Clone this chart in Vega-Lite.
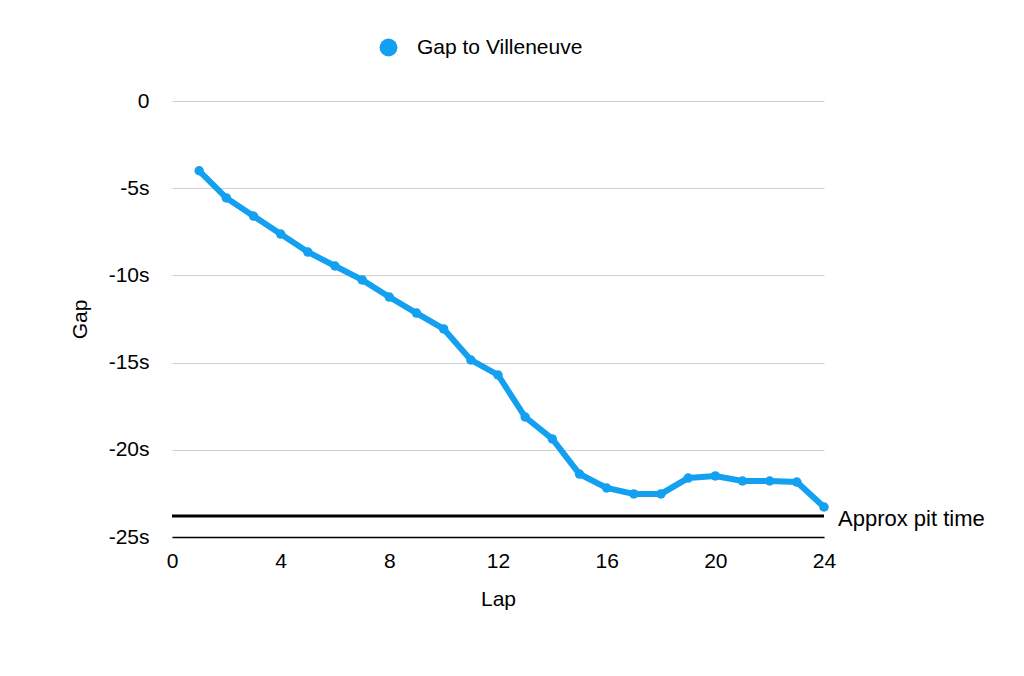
{
  "$schema": "https://vega.github.io/schema/vega-lite/v6.json",
  "description": "Gap to Villeneuve by lap, with approximate pit time line.",
  "width": 652,
  "height": 436,
  "autosize": {"type": "none"},
  "padding": {"left": 172, "top": 101, "right": 200, "bottom": 139},
  "background": "white",
  "config": {
    "font": "Liberation Sans",
    "view": {"stroke": null}
  },
  "datasets": {
    "gap": [
      {"lap": 1, "gap": -4.0, "series": "Gap to Villeneuve"},
      {"lap": 2, "gap": -5.56, "series": "Gap to Villeneuve"},
      {"lap": 3, "gap": -6.6, "series": "Gap to Villeneuve"},
      {"lap": 4, "gap": -7.63, "series": "Gap to Villeneuve"},
      {"lap": 5, "gap": -8.66, "series": "Gap to Villeneuve"},
      {"lap": 6, "gap": -9.46, "series": "Gap to Villeneuve"},
      {"lap": 7, "gap": -10.26, "series": "Gap to Villeneuve"},
      {"lap": 8, "gap": -11.24, "series": "Gap to Villeneuve"},
      {"lap": 9, "gap": -12.16, "series": "Gap to Villeneuve"},
      {"lap": 10, "gap": -13.07, "series": "Gap to Villeneuve"},
      {"lap": 11, "gap": -14.85, "series": "Gap to Villeneuve"},
      {"lap": 12, "gap": -15.71, "series": "Gap to Villeneuve"},
      {"lap": 13, "gap": -18.12, "series": "Gap to Villeneuve"},
      {"lap": 14, "gap": -19.38, "series": "Gap to Villeneuve"},
      {"lap": 15, "gap": -21.39, "series": "Gap to Villeneuve"},
      {"lap": 16, "gap": -22.19, "series": "Gap to Villeneuve"},
      {"lap": 17, "gap": -22.53, "series": "Gap to Villeneuve"},
      {"lap": 18, "gap": -22.53, "series": "Gap to Villeneuve"},
      {"lap": 19, "gap": -21.62, "series": "Gap to Villeneuve"},
      {"lap": 20, "gap": -21.5, "series": "Gap to Villeneuve"},
      {"lap": 21, "gap": -21.79, "series": "Gap to Villeneuve"},
      {"lap": 22, "gap": -21.79, "series": "Gap to Villeneuve"},
      {"lap": 23, "gap": -21.85, "series": "Gap to Villeneuve"},
      {"lap": 24, "gap": -23.28, "series": "Gap to Villeneuve"}
    ],
    "pit": [
      {"lap": 24, "gap": -23.8, "label": "Approx pit time"}
    ]
  },
  "layer": [
    {
      "data": {"name": "pit"},
      "mark": {"type": "rule", "color": "black", "strokeWidth": 3},
      "encoding": {
        "y": {"field": "gap", "type": "quantitative"}
      }
    },
    {
      "data": {"name": "gap"},
      "mark": {"type": "line", "strokeWidth": 6, "point": {"size": 90, "filled": true}},
      "encoding": {
        "x": {
          "field": "lap",
          "type": "quantitative",
          "scale": {"domain": [0, 24], "nice": false},
          "axis": {
            "title": "Lap",
            "values": [0, 4, 8, 12, 16, 20, 24],
            "grid": false,
            "ticks": false,
            "labelFlush": false,
            "domainColor": "black",
            "domainWidth": 1.5,
            "labelFontSize": 21,
            "labelColor": "black",
            "labelPadding": 13,
            "titleFontSize": 21,
            "titleFontWeight": "normal",
            "titleColor": "black",
            "titlePadding": 17
          }
        },
        "y": {
          "field": "gap",
          "type": "quantitative",
          "scale": {"domain": [-25, 0], "nice": false},
          "axis": {
            "title": "Gap",
            "values": [0, -5, -10, -15, -20, -25],
            "labelExpr": "datum.value == 0 ? '0' : datum.value + 's'",
            "domain": false,
            "ticks": false,
            "gridColor": "#d0d0d0",
            "gridWidth": 1,
            "labelFontSize": 21,
            "labelColor": "black",
            "labelPadding": 23,
            "titleFontSize": 21,
            "titleFontWeight": "normal",
            "titleColor": "black",
            "titlePadding": 18
          }
        },
        "color": {
          "field": "series",
          "type": "nominal",
          "scale": {"range": ["#14a0f0"]},
          "legend": {
            "title": null,
            "orient": "none",
            "legendX": 206,
            "legendY": -64,
            "symbolType": "circle",
            "symbolSize": 320,
            "symbolStrokeWidth": 0,
            "labelFontSize": 21,
            "labelLimit": 400,
            "labelColor": "black",
            "labelOffset": 18
          }
        }
      }
    },
    {
      "data": {"name": "pit"},
      "mark": {"type": "text", "align": "left", "baseline": "middle", "dx": 14, "dy": 3, "fontSize": 22, "color": "black"},
      "encoding": {
        "x": {"field": "lap", "type": "quantitative"},
        "y": {"field": "gap", "type": "quantitative"},
        "text": {"field": "label"}
      }
    }
  ]
}
